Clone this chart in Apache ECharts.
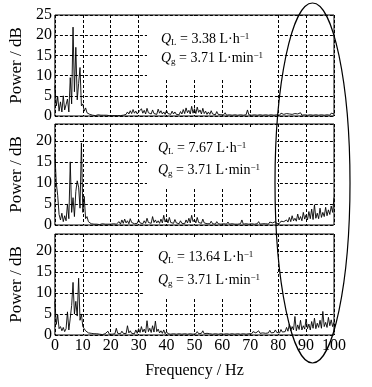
<!DOCTYPE html>
<html>
<head>
<meta charset="utf-8">
<script src="https://cdn.jsdelivr.net/npm/echarts@6/dist/echarts.min.js"></script>
<style>html,body{margin:0;padding:0;background:#fff}#c{width:372px;height:387px}</style>
</head>
<body>
<div id="c"></div>
<script>
// frequency step (Hz) between samples, 0..100 Hz
const step = 0.5;
const xTicks = [0,10,20,30,40,50,60,70,80,90,100];
const yTicks = [0,5,10,15,20,25];
const labelsQL = ['3.38', '7.67', '13.64'];
const labelsQg = ['3.71', '3.71', '3.71'];

// Panel 1: Q_L = 3.38 L/h
const power1 = [
 7.5,2.5,4.8,1.2,3.5,1.0,5.0,1.5,2.8,4.2,
 1.0,9.5,3.0,22.0,6.0,17.0,4.0,8.0,12.0,2.5,
 3.0,1.2,2.0,0.8,1.0,0.4,0.3,0.2,0.3,0.1,
 0.2,0.3,0.1,0.2,0.1,0.2,0.1,0.2,0.3,0.1,
 0.5,0.1,0.2,0.1,0.2,0.1,0.2,0.1,0.3,0.2,
 0.6,0.4,1.0,0.5,1.3,0.6,1.6,0.7,1.2,0.5,
 1.0,0.6,1.8,0.7,1.4,0.5,1.9,0.8,1.2,0.5,
 1.5,0.6,1.0,0.4,1.7,0.7,1.3,0.5,1.0,0.4,
 1.4,0.6,0.9,0.4,1.2,0.5,1.0,0.4,0.8,0.3,
 1.1,0.5,1.6,0.6,2.0,0.8,1.4,0.5,2.4,0.7,
 1.8,0.6,2.2,0.9,1.5,0.5,1.9,0.6,1.2,0.4,
 1.0,0.4,1.3,0.5,0.8,0.3,1.1,0.4,0.7,0.3,
 0.6,0.3,0.8,0.2,0.5,0.3,0.7,0.2,0.4,0.3,
 0.6,0.2,0.5,0.3,0.4,0.2,0.6,0.3,1.5,0.3,
 0.5,0.2,0.4,0.3,0.6,0.2,0.4,0.3,0.5,0.2,
 0.4,0.3,0.6,0.2,0.5,0.3,0.4,0.2,0.6,0.3,
 0.5,0.2,0.7,0.3,0.4,0.2,0.6,0.3,0.5,0.2,
 0.4,0.3,0.6,0.2,0.5,0.3,0.8,0.2,0.4,0.3,
 0.6,0.2,0.5,0.3,0.7,0.2,0.4,0.3,0.6,0.2,
 0.5,0.3,0.4,0.2,0.6,0.3,0.5,0.2,0.7,0.3,
 0.5
];
// Panel 2: Q_L = 7.67 L/h
const power2 = [
 17.0,10.0,7.0,2.5,1.2,2.8,0.8,2.2,1.0,5.0,
 1.5,15.0,3.0,6.5,2.0,8.0,10.5,9.0,4.0,19.5,
 3.0,6.8,1.5,2.0,0.8,0.5,0.3,0.4,0.2,0.3,
 0.2,0.3,0.1,0.2,0.3,0.1,0.2,0.1,0.2,0.1,
 0.2,0.1,0.3,0.1,0.2,0.3,0.8,0.2,1.2,0.4,
 1.4,0.5,1.0,0.3,1.5,0.6,0.9,0.3,0.7,0.4,
 1.2,0.5,0.8,0.3,1.0,0.4,1.6,0.6,0.9,0.4,
 2.0,0.6,1.2,0.5,1.0,0.4,1.4,0.5,2.3,0.7,
 1.5,0.5,1.8,0.6,1.0,0.4,1.3,0.5,0.9,0.3,
 1.0,0.4,0.8,0.3,1.2,0.5,1.6,0.5,2.3,0.8,
 1.3,0.5,1.8,0.6,1.0,0.4,1.4,0.5,0.8,0.3,
 0.7,0.3,0.9,0.3,0.6,0.2,0.8,0.3,0.5,0.2,
 0.6,0.3,0.4,0.2,0.7,0.2,0.5,0.3,0.4,0.2,
 0.6,0.2,0.4,0.3,1.2,0.2,0.5,0.3,0.4,0.2,
 0.5,0.3,0.4,0.2,0.6,0.3,0.8,0.2,0.5,0.3,
 0.6,0.3,0.5,0.2,0.7,0.3,0.5,0.4,0.8,0.3,
 0.6,0.4,0.9,0.5,0.8,0.6,1.2,0.7,1.8,0.8,
 2.2,1.0,1.6,0.9,2.6,1.2,2.0,1.0,3.0,1.4,
 2.4,1.2,3.2,1.5,3.8,1.3,4.8,1.6,2.8,1.5,
 4.0,1.8,3.0,2.0,4.2,2.2,3.6,2.5,4.5,3.0,
 6.5
];
// Panel 3: Q_L = 13.64 L/h
const power3 = [
 8.0,2.5,4.8,1.5,2.0,1.0,1.8,0.8,1.5,5.5,
 1.2,4.0,7.0,12.5,5.0,8.0,4.5,13.5,3.5,5.0,
 2.0,1.5,1.0,1.2,0.5,0.3,0.4,0.2,0.3,0.2,
 0.3,0.1,0.2,0.3,0.1,0.2,0.3,0.1,0.9,0.2,
 0.3,0.2,0.5,0.3,1.6,0.4,0.6,0.3,0.9,0.4,
 0.7,0.3,2.2,0.5,1.0,0.4,0.8,0.3,1.2,0.4,
 1.5,0.6,2.0,0.7,1.4,0.5,3.4,0.8,1.6,0.6,
 2.2,0.7,3.3,0.8,1.4,0.5,1.0,0.4,1.2,0.3,
 0.8,0.3,0.6,0.2,0.5,0.3,0.7,0.2,0.4,0.3,
 0.5,0.2,0.6,0.3,0.4,0.2,0.5,0.3,0.4,0.2,
 0.6,0.3,0.8,0.3,0.5,0.4,1.0,0.3,0.6,0.4,
 0.8,0.3,0.5,0.2,0.6,0.3,0.4,0.2,0.5,0.3,
 0.4,0.2,0.5,0.3,0.4,0.2,0.6,0.3,0.4,0.2,
 0.5,0.3,0.4,0.2,0.6,0.3,0.5,0.2,0.4,0.3,
 0.6,0.3,0.8,0.4,0.5,0.3,1.0,0.4,0.7,0.5,
 0.9,0.4,0.7,0.5,1.1,0.5,0.8,0.6,1.2,0.6,
 1.0,0.5,1.3,0.7,1.0,0.8,1.8,0.9,2.6,1.0,
 2.0,1.2,4.4,1.0,2.4,1.3,3.5,1.2,2.2,1.4,
 3.8,1.5,2.6,1.2,3.2,1.6,4.0,1.5,2.8,1.8,
 3.5,1.6,5.6,2.0,3.0,1.8,4.2,2.2,3.6,2.0,
 3.0
];
const panels = [power1, power2, power3];
const yMax = [25, 24, 24];

const FONT = '"Liberation Serif","Times New Roman",serif';
const chart = echarts.init(document.getElementById('c'), null, {renderer: 'canvas'});

const gridTop = [15, 124, 234];
const gridH = 101;
const grids = gridTop.map(t => ({left: 53, right: 38, top: t, height: gridH, show: true,
  borderColor: '#000', borderWidth: 1, backgroundColor: 'transparent'}));

const dash = {color: '#000', width: 1, type: [3, 2]};
const xAxes = panels.map((p, i) => ({
  gridIndex: i, type: 'value', min: xTicks[0], max: xTicks[xTicks.length-1], interval: xTicks[1]-xTicks[0],
  axisLine: {show: false}, axisTick: {show: false},
  axisLabel: {show: i === 2, color: '#000', fontFamily: FONT, fontSize: 16, margin: 3},
  splitLine: {show: true, lineStyle: dash},
  name: i === 2 ? 'Frequency / Hz' : '', nameLocation: 'middle', nameGap: 28,
  nameTextStyle: {color: '#000', fontFamily: FONT, fontSize: 16}
}));
const yAxes = panels.map((p, i) => ({
  gridIndex: i, type: 'value', min: yTicks[0], max: yMax[i], interval: yTicks[1]-yTicks[0],
  axisLine: {show: false}, axisTick: {show: false},
  axisLabel: {color: '#000', fontFamily: FONT, fontSize: 16, margin: 3, showMaxLabel: i === 0,
    formatter: v => (v % 5 === 0 ? String(v) : '')},
  splitLine: {show: true, lineStyle: dash},
  name: 'Power / dB', nameLocation: 'middle', nameGap: 22,
  nameTextStyle: {color: '#000', fontFamily: FONT, fontSize: 17}
}));
const series = panels.map((p, i) => ({
  type: 'line', xAxisIndex: i, yAxisIndex: i, showSymbol: false, symbol: 'none',
  lineStyle: {color: '#000', width: 0.9}, z: 5, animation: false,
  data: p.map((v, k) => [k * step, v])
}));

const rich = {
  q: {fontFamily: FONT, fontSize: 14, fontStyle: 'italic', color: '#000', lineHeight: 18, verticalAlign: 'middle'},
  sub: {fontFamily: FONT, fontSize: 9, color: '#000', lineHeight: 18, verticalAlign: 'bottom', padding: [0,0,1,0]},
  t: {fontFamily: FONT, fontSize: 14, color: '#000', lineHeight: 18, verticalAlign: 'middle'},
  sup: {fontFamily: FONT, fontSize: 9, color: '#000', lineHeight: 18, verticalAlign: 'top', padding: [2,0,0,0]}
};
const boxes = [
  {x: 147, y: 16, w: 130, h: 62, t1: 39, t2: 58, tx: 161},
  {x: 147, y: 128, w: 130, h: 61, t1: 148, t2: 170, tx: 158},
  {x: 143, y: 238, w: 134, h: 60, t1: 257, t2: 280, tx: 158}
];
const graphic = [];
boxes.forEach((b, i) => {
  graphic.push({type: 'rect', shape: {x: b.x, y: b.y, width: b.w, height: b.h}, style: {fill: '#fff'}, z: 3, silent: true});
  graphic.push({type: 'text', x: b.tx, y: b.t1, z: 6, silent: true, style: {
    text: '{q|Q}{sub|L}{t| = ' + labelsQL[i] + ' L\u00b7h}{sup|\u22121}', rich: rich, verticalAlign: 'middle', align: 'left'}});
  graphic.push({type: 'text', x: b.tx, y: b.t2, z: 6, silent: true, style: {
    text: '{q|Q}{sub|g}{t| = ' + labelsQg[i] + ' L\u00b7min}{sup|\u22121}', rich: rich, verticalAlign: 'middle', align: 'left'}});
});
graphic.push({type: 'ellipse', shape: {cx: 312.5, cy: 183, rx: 37.5, ry: 180},
  style: {fill: 'none', stroke: '#000', lineWidth: 1.2}, z: 10, silent: true});

chart.setOption({
  animation: false,
  backgroundColor: '#fff',
  grid: grids,
  xAxis: xAxes,
  yAxis: yAxes,
  series: series,
  graphic: graphic
});
</script>
</body>
</html>
